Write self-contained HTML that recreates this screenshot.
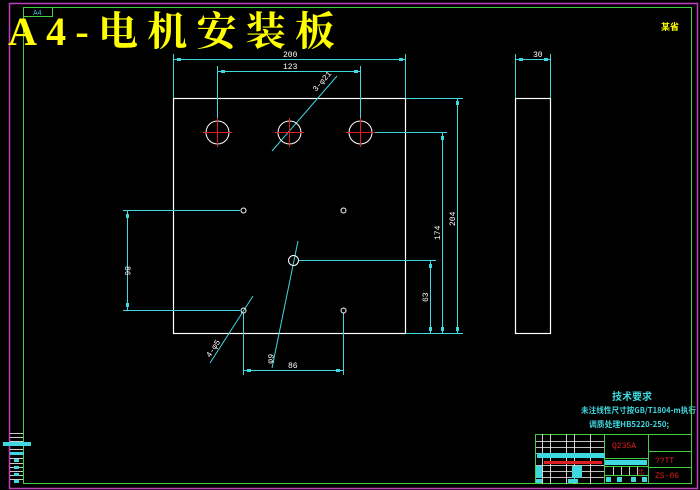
<!DOCTYPE html>
<html><head><meta charset="utf-8"><style>
html,body{margin:0;padding:0;background:#000;width:700px;height:490px;overflow:hidden}
svg{display:block}
</style></head><body>
<svg width="700" height="490" viewBox="0 0 700 490" xmlns="http://www.w3.org/2000/svg" font-family="Liberation Sans, Noto Sans CJK SC, sans-serif">
<rect x="0" y="0" width="700" height="490" fill="#000"/>
<rect x="9.5" y="3.5" width="688" height="485" fill="none" stroke="#c040c0" stroke-width="1.5"/>
<rect x="23.5" y="7.5" width="668" height="476" fill="none" stroke="#40d040" stroke-width="1"/>
<rect x="23.5" y="7.5" width="29" height="9" fill="none" stroke="#40d040" stroke-width="1"/>
<text x="33" y="15" font-size="7" fill="#40c0e0">A4</text>
<text x="8" y="45" font-size="40" font-weight="bold" fill="#ffff00" font-family="Liberation Serif, Noto Serif CJK SC, serif" textLength="327" lengthAdjust="spacing">A4-电机安装板</text>
<text x="661" y="30" font-size="9" font-weight="bold" fill="#ffff00" font-family="Noto Sans CJK SC, sans-serif">某省</text>

<g stroke="#ffffff" stroke-width="1.2" fill="none">
<rect x="173.5" y="98.5" width="232" height="235"/>
<rect x="515.5" y="98.5" width="35" height="235"/>
</g>
<g stroke="#40d8e0" stroke-width="1" fill="none">
<line x1="173.5" y1="54" x2="173.5" y2="98"/>
<line x1="405.5" y1="54" x2="405.5" y2="98"/>
<line x1="173" y1="59.5" x2="406" y2="59.5"/>
<line x1="217.5" y1="66" x2="217.5" y2="132"/>
<line x1="360.5" y1="66" x2="360.5" y2="132"/>
<line x1="217" y1="71.5" x2="361" y2="71.5"/>
<line x1="337" y1="76" x2="272" y2="151"/>
<line x1="406" y1="98.5" x2="463" y2="98.5"/>
<line x1="372" y1="132.5" x2="447" y2="132.5"/>
<line x1="298" y1="260.5" x2="436" y2="260.5"/>
<line x1="406" y1="333.5" x2="463" y2="333.5"/>
<line x1="457.5" y1="98" x2="457.5" y2="333"/>
<line x1="442.5" y1="132" x2="442.5" y2="333"/>
<line x1="430.5" y1="260" x2="430.5" y2="333"/>
<line x1="515.5" y1="54" x2="515.5" y2="98"/>
<line x1="550.5" y1="54" x2="550.5" y2="98"/>
<line x1="515" y1="59.5" x2="551" y2="59.5"/>
<line x1="123" y1="210.5" x2="240" y2="210.5"/>
<line x1="123" y1="310.5" x2="240" y2="310.5"/>
<line x1="127.5" y1="210" x2="127.5" y2="310"/>
<line x1="243.5" y1="313" x2="243.5" y2="375"/>
<line x1="343.5" y1="313" x2="343.5" y2="375"/>
<line x1="243" y1="370.5" x2="344" y2="370.5"/>
<line x1="253" y1="296" x2="210" y2="363"/>
<line x1="298" y1="241" x2="272" y2="368"/>
</g>
<g fill="#40d8e0">
<rect x="177" y="58" width="4" height="3"/><rect x="399" y="58" width="4" height="3"/>
<rect x="221" y="70" width="4" height="3"/><rect x="354" y="70" width="4" height="3"/>
<rect x="519" y="58" width="4" height="3"/><rect x="544" y="58" width="4" height="3"/>
<rect x="456" y="101" width="3" height="4"/><rect x="456" y="327" width="3" height="4"/>
<rect x="441" y="136" width="3" height="4"/><rect x="441" y="327" width="3" height="4"/>
<rect x="429" y="264" width="3" height="4"/><rect x="429" y="327" width="3" height="4"/>
<rect x="126" y="214" width="3" height="4"/><rect x="126" y="303" width="3" height="4"/>
<rect x="247" y="369" width="4" height="3"/><rect x="336" y="369" width="4" height="3"/>
</g>
<g stroke="#ffffff" stroke-width="1" fill="none">
<circle cx="217.5" cy="132.5" r="11.5"/>
<circle cx="289.5" cy="132.5" r="11.5"/>
<circle cx="360.5" cy="132.5" r="11.5"/>
<circle cx="243.5" cy="210.5" r="2.5"/>
<circle cx="343.5" cy="210.5" r="2.5"/>
<circle cx="243.5" cy="310.5" r="2.5"/>
<circle cx="343.5" cy="310.5" r="2.5"/>
<circle cx="293.5" cy="260.5" r="5"/>
</g>
<g stroke="#e02020" stroke-width="1">
<line x1="203" y1="132.5" x2="232" y2="132.5"/><line x1="217.5" y1="118" x2="217.5" y2="147"/>
<line x1="275" y1="132.5" x2="304" y2="132.5"/><line x1="289.5" y1="118" x2="289.5" y2="147"/>
<line x1="346" y1="132.5" x2="375" y2="132.5"/><line x1="360.5" y1="118" x2="360.5" y2="147"/>
</g>
<g fill="#ffffff" font-size="8" font-family="Liberation Mono, monospace">
<text x="283" y="57">200</text>
<text x="283" y="69">123</text>
<text x="533" y="57">30</text>
<text transform="translate(316,92) rotate(-49)">3-φ21</text>
<text transform="translate(125,266) rotate(90)">86</text>
<text transform="translate(455,226) rotate(-90)">204</text>
<text transform="translate(440,240) rotate(-90)">174</text>
<text transform="translate(428,302) rotate(-90)">63</text>
<text x="288" y="368">86</text>
<text transform="translate(210,358) rotate(-57)">4-φ5</text>
<text transform="translate(272,364) rotate(-78)">φ9</text>
</g>
<g fill="#40d8e0" font-family="Noto Sans CJK SC, sans-serif" font-weight="bold">
<text x="612" y="400" font-size="10">技术要求</text>
<text x="581" y="413" font-size="8" textLength="115" lengthAdjust="spacingAndGlyphs">未注线性尺寸按GB/T1804-m执行</text>
<text x="589" y="427" font-size="8" textLength="80" lengthAdjust="spacingAndGlyphs">调质处理HB5220-250;</text>
</g>
<g stroke="#40d040" stroke-width="1" fill="none">
<rect x="535.5" y="434.5" width="156" height="49"/>
<line x1="604.5" y1="434" x2="604.5" y2="484"/>
<line x1="648.5" y1="434" x2="648.5" y2="484"/>
<line x1="648" y1="451.5" x2="692" y2="451.5"/>
<line x1="648" y1="467.5" x2="692" y2="467.5"/>
<line x1="604" y1="458.5" x2="648" y2="458.5"/>
<line x1="604" y1="466.5" x2="648" y2="466.5"/>
<line x1="604" y1="475.5" x2="648" y2="475.5"/>
</g>
<g stroke="#ffffff" stroke-width="0.8">
<line x1="536" y1="441.5" x2="604" y2="441.5"/>
<line x1="536" y1="447.5" x2="604" y2="447.5"/>
<line x1="536" y1="453.5" x2="604" y2="453.5"/>
<line x1="536" y1="465.5" x2="604" y2="465.5"/>
<line x1="536" y1="471.5" x2="604" y2="471.5"/>
<line x1="536" y1="477.5" x2="604" y2="477.5"/>
<line x1="542.5" y1="434" x2="542.5" y2="484"/>
<line x1="550.5" y1="434" x2="550.5" y2="484"/>
<line x1="566.5" y1="434" x2="566.5" y2="484"/>
<line x1="574.5" y1="434" x2="574.5" y2="484"/>
<line x1="590.5" y1="434" x2="590.5" y2="484"/>
<line x1="613.5" y1="467" x2="613.5" y2="475"/>
<line x1="621.5" y1="467" x2="621.5" y2="475"/>
<line x1="629.5" y1="467" x2="629.5" y2="475"/>
<line x1="637.5" y1="467" x2="637.5" y2="475"/>
</g>
<g fill="#40d8e0">
<rect x="537" y="453" width="68" height="5"/>
<rect x="605" y="460" width="42" height="5"/>
<rect x="536" y="466" width="6" height="12"/>
<rect x="572" y="466" width="10" height="12"/>
<rect x="536" y="479" width="6" height="4"/>
<rect x="568" y="479" width="10" height="4"/>
<rect x="606" y="477" width="5" height="5"/><rect x="617" y="477" width="5" height="5"/>
<rect x="631" y="477" width="5" height="5"/><rect x="642" y="477" width="5" height="5"/>
</g>
<rect x="544" y="461" width="58" height="3" fill="#e02020"/>
<g fill="#e02020" font-size="8" font-family="Liberation Mono, monospace">
<text x="612" y="448">Q235A</text>
<text x="655" y="463">??TT</text>
<text x="655" y="478">ZS-06</text>
<text x="638" y="474" font-size="6">比</text>
</g>
<g stroke="#ffffff" stroke-width="0.8">
<line x1="10" y1="433.5" x2="23" y2="433.5"/><line x1="10" y1="437.5" x2="23" y2="437.5"/>
<line x1="10" y1="441.5" x2="23" y2="441.5"/><line x1="10" y1="445.5" x2="23" y2="445.5"/>
<line x1="10" y1="449.5" x2="23" y2="449.5"/><line x1="10" y1="454.5" x2="23" y2="454.5"/>
<line x1="10" y1="458.5" x2="23" y2="458.5"/><line x1="10" y1="463.5" x2="23" y2="463.5"/>
<line x1="10" y1="467.5" x2="23" y2="467.5"/><line x1="10" y1="471.5" x2="23" y2="471.5"/>
<line x1="10" y1="475.5" x2="23" y2="475.5"/><line x1="10" y1="479.5" x2="23" y2="479.5"/>
</g>
<g fill="#40d8e0">
<rect x="3" y="442" width="28" height="4"/>
<rect x="10" y="452" width="14" height="3"/>
<rect x="14" y="459" width="5" height="3"/><rect x="14" y="466" width="5" height="3"/>
<rect x="14" y="473" width="5" height="3"/><rect x="14" y="480" width="5" height="3"/>
</g>
</svg>
</body></html>
